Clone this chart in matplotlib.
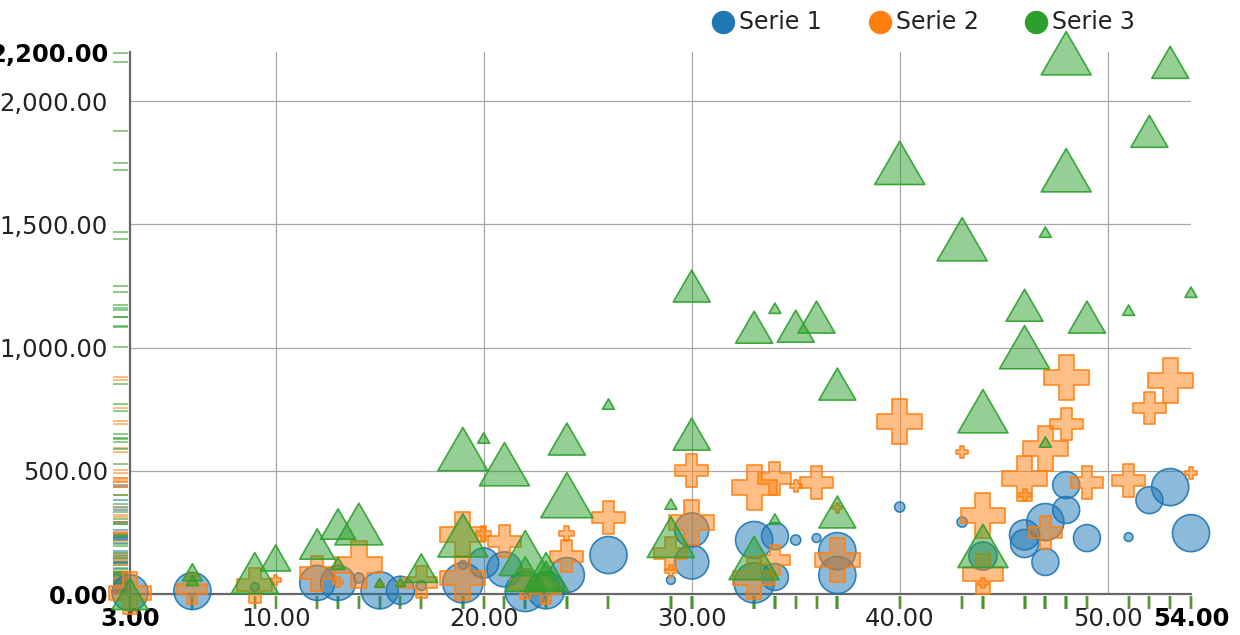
import matplotlib
matplotlib.use("Agg")
import matplotlib.pyplot as plt
from matplotlib.lines import Line2D
from matplotlib.markers import MarkerStyle
from matplotlib.path import Path
import numpy as np

# ---------------- data ----------------
series_names = ["Serie 1", "Serie 2", "Serie 3"]
series_colors = ["#1f77b4", "#ff7f0e", "#2ca02c"]

s1_x = [3, 6, 9, 12, 13, 14, 15, 16, 17, 19, 19, 20, 21, 22, 23, 24, 26, 29, 30, 30,
        33, 33, 34, 34, 35, 36, 37, 37, 40, 43, 44, 46, 46, 47, 47, 48, 48, 49, 51, 52, 53, 54]
s1_y = [5, 12, 28, 45, 45, 65, 15, 15, 35, 45, 118, 126, 100, 10, 15, 77, 158, 57, 260, 130,
        219, 45, 235, 69, 219, 227, 174, 77, 353, 292, 154, 240, 205, 292, 130, 442, 341, 227, 231, 381, 434, 247]
s1_size = [10.2, 10.8, 0.6, 9.6, 9.6, 0.8, 10.8, 6.2, 0.8, 12.6, 0.6, 7.1, 9.6, 12.6, 10.8, 9.6, 10.8, 0.6, 9.1, 9.1,
           10.8, 12.6, 5.7, 5.7, 0.8, 0.6, 10.8, 10.8, 0.8, 0.8, 6.2, 7.1, 6.2, 10.8, 5.7, 5.7, 5.7, 5.7, 0.6, 5.7, 10.8, 10.8]

s2_x = [3, 6, 9, 10, 12, 13, 14, 15, 16, 17, 19, 19, 20, 21, 22, 23, 24, 24, 26, 29, 29, 30, 30,
        33, 33, 34, 34, 35, 36, 37, 37, 40, 43, 44, 44, 44, 46, 46, 47, 47, 48, 48, 49, 51, 52, 53, 54]
s2_y = [5, 20, 36, 57, 85, 48, 118, 40, 40, 48, 240, 65, 247, 215, 40, 20, 154, 247, 312, 166, 93, 503, 292,
        434, 65, 470, 140, 440, 454, 138, 350, 702, 576, 320, 81, 45, 470, 400, 592, 250, 690, 880, 454, 462, 755, 868, 491]
s2_size = [9.8, 5.0, 6.8, 0.56, 6.8, 0.56, 12.3, 0.36, 0.36, 5.7, 11.2, 11.2, 1.25, 6.0, 5.0, 5.0, 6.0, 1.25, 6.0, 6.0, 0.8, 6.0, 11.2,
           11.2, 9.8, 6.0, 5.0, 0.8, 6.0, 11.2, 0.56, 11.2, 0.8, 11.2, 8.9, 0.56, 11.2, 0.8, 11.2, 6.0, 6.0, 11.2, 6.0, 6.0, 6.0, 11.2, 0.8]

s3_x = [3, 6, 6, 9, 10, 12, 13, 13, 14, 15, 16, 17, 19, 19, 20, 21, 22, 22, 23, 23, 24, 24, 26, 29, 29,
        30, 30, 33, 33, 34, 34, 35, 36, 37, 37, 40, 43, 44, 44, 46, 46, 47, 47, 48, 48, 49, 51, 52, 53, 54]
s3_y = [0, 88, 55, 85, 146, 203, 284, 124, 284, 45, 48, 105, 238, 588, 633, 527, 166, 81, 89, 75, 401, 629, 771, 365, 231,
        649, 1250, 1083, 146, 1160, 304, 1087, 1124, 852, 333, 1750, 1440, 742, 195, 1172, 1002, 1469, 617, 2195, 1720, 1124, 1152, 1878, 2158, 1225]
s3_size = [5.6, 1.7, 0.6, 9.6, 3.9, 5.3, 5.3, 0.85, 10.0, 0.43, 0.43, 4.7, 10.8, 10.8, 0.62, 10.8, 11.7, 6.9, 8.8, 4.7, 11.7, 5.9, 0.62, 0.62, 9.6,
           5.9, 5.9, 5.9, 10.8, 0.62, 0.62, 5.9, 5.9, 5.9, 5.9, 10.8, 10.8, 10.8, 10.8, 5.9, 10.8, 0.62, 0.62, 10.8, 10.8, 5.9, 0.62, 5.9, 5.9, 0.62]

x_ticks = [10, 20, 30, 40, 50]
y_ticks = [500, 1000, 1500, 2000]
x_min, x_max = 3, 54
y_min, y_max = 0, 2200

# ---------------- style ----------------
W, H, DPI = 1240, 635, 100
PX = 72.0 / DPI  # points per pixel
FONT = 17.5
LEG_FONT = 17
plt.rcParams["font.family"] = ["DejaVu Sans"]

# equilateral triangle (d3 triangle-up), cross, circle
tri = MarkerStyle(Path([(0, 0.866), (-1, -0.866), (1, -0.866), (0, 0.866)],
                       [Path.MOVETO, Path.LINETO, Path.LINETO, Path.CLOSEPOLY]))
shapes = ["o", "P", tri]


def width_px(size, shape_idx):
    area = size * 100.0  # symbol area in px^2
    if shape_idx == 0:
        return 2 * np.sqrt(area / np.pi)
    if shape_idx == 1:
        return 3 * np.sqrt(area / 5.0)
    return 2 * np.sqrt(area / np.sqrt(3))


fig = plt.figure(figsize=(W / DPI, H / DPI), dpi=DPI)
L, R, T, B = 130, 1191, 52, 594
ax = fig.add_axes([L / W, 1 - B / H, (R - L) / W, (B - T) / H])
ax.set_xlim(x_min, x_max)
ax.set_ylim(y_min, y_max)

for sp in ["top", "right"]:
    ax.spines[sp].set_visible(False)
for sp in ["left", "bottom"]:
    ax.spines[sp].set_color("#666666")
    ax.spines[sp].set_linewidth(1.6)
    ax.spines[sp].set_zorder(3)

for xv in x_ticks:
    ax.axvline(xv, color="#a8a8a8", lw=0.9, zorder=0)
for yv in y_ticks:
    ax.axhline(yv, color="#a8a8a8", lw=0.9, zorder=0)

# ticks / labels
xt = [x_min] + x_ticks + [x_max]
yt = [y_min] + y_ticks + [y_max]
ax.set_xticks(xt)
ax.set_xticklabels([f"{v:,.2f}" for v in xt], fontsize=FONT, color="#222222")
ax.set_yticks(yt)
ax.set_yticklabels([f"{v:,.2f}" for v in yt], fontsize=FONT, color="#222222")
ax.tick_params(axis="both", length=0)
ax.tick_params(axis="y", pad=22 * PX)
ax.tick_params(axis="x", pad=13 * PX)
for lbl in (ax.get_xticklabels()[0], ax.get_xticklabels()[-1],
            ax.get_yticklabels()[0], ax.get_yticklabels()[-1]):
    lbl.set_fontweight("bold")
    lbl.set_color("#000000")

xs = [s1_x, s2_x, s3_x]
ys = [s1_y, s2_y, s3_y]
ss = [s1_size, s2_size, s3_size]

axw = R - L
axh = B - T
# rugs
for i in range(3):
    c = series_colors[i]
    for yv in ys[i]:
        ax.plot([-17 / axw, -2 / axw], [yv, yv], transform=ax.get_yaxis_transform(),
                color=c, lw=1.4, alpha=0.55, clip_on=False, zorder=1, solid_capstyle="butt")
for i in range(3):
    c = series_colors[i]
    for xv in xs[i]:
        ax.plot([xv, xv], [-2 / axh, -15 / axh], transform=ax.get_xaxis_transform(),
                color=c, lw=1.7, alpha=0.8, clip_on=False, zorder=1, solid_capstyle="butt")

# points
for i in range(3):
    c = series_colors[i]
    sizes_pt2 = [(width_px(s, i) * PX) ** 2 for s in ss[i]]
    ax.scatter(xs[i], ys[i], s=sizes_pt2, marker=shapes[i],
               facecolors=matplotlib.colors.to_rgba(c, 0.5),
               edgecolors=matplotlib.colors.to_rgba(c, 0.9),
               linewidths=1.2, clip_on=False, zorder=4 + i)

# legend
leg_cx = [723, 880, 1036]
for i in range(3):
    fig.add_artist(Line2D([leg_cx[i] / W], [1 - 22 / H], transform=fig.transFigure,
                          marker="o", markersize=22 * PX, color=series_colors[i], lw=0))
    fig.text((leg_cx[i] + 16) / W, 1 - 22 / H, series_names[i], fontsize=LEG_FONT,
             va="center", ha="left", color="#222222")

fig.savefig("out.png", dpi=DPI)
